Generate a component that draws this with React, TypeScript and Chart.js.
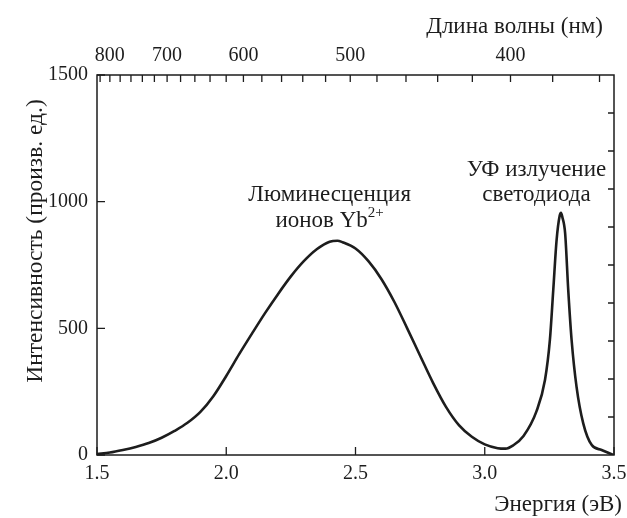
import { useEffect, useRef } from "react";
import { Chart, registerables } from "chart.js";

Chart.register(...registerables);

// Photon energy (eV) and emission intensity (arb. units)
const energyEv = [
  1.5, 1.55, 1.6, 1.65, 1.7, 1.75, 1.8, 1.85, 1.9, 1.95, 2.0, 2.05, 2.1, 2.15,
  2.2, 2.25, 2.3, 2.35, 2.4, 2.43, 2.45, 2.5, 2.55, 2.6, 2.65, 2.7, 2.75, 2.8,
  2.85, 2.9, 2.95, 3.0, 3.05, 3.08, 3.11, 3.15, 3.2, 3.233, 3.252, 3.265,
  3.278, 3.29, 3.295, 3.3, 3.311, 3.323, 3.336, 3.355, 3.381, 3.414, 3.452,
  3.497,
];
const intensity = [
  4, 10, 20, 32, 47, 68, 95, 127, 170, 232, 312, 398, 480, 560, 635, 705, 765,
  812, 842, 846, 840, 815, 765, 695, 605, 500, 392, 285, 190, 118, 72, 42, 27,
  25, 38, 75, 172, 296, 454, 651, 849, 945, 956, 940, 875, 651, 454, 270, 125,
  39, 20, 0,
];

// Axis ticks
const energyTicks = [1.5, 2.0, 2.5, 3.0, 3.5];
const intensityTicks = [0, 500, 1000, 1500];
const rightTicks = [150, 300, 450, 600, 750, 900, 1050, 1200, 1350];
const wavelengthLabels = [800, 700, 600, 500, 400];
const wavelengthTicks = [
  820, 800, 780, 760, 740, 720, 700, 680, 660, 640, 620, 600, 580, 560, 540,
  520, 500, 480, 460, 440, 420, 400, 380, 360,
];

const HC = 1239.84; // eV·nm
const INK = "#1d1d1d";
const SERIF = '"Liberation Serif", "DejaVu Serif", serif';
const NUM_FONT = `20px ${SERIF}`;
const TEXT_FONT = `23px ${SERIF}`;
const YTITLE_FONT = `23.5px ${SERIF}`;

const framePlugin = {
  id: "frameAndAxes",
  afterDraw(chart: any) {
    const { ctx, chartArea: a } = chart;
    const xs = chart.scales.x;
    const ys = chart.scales.y;
    ctx.save();
    ctx.strokeStyle = INK;
    ctx.fillStyle = INK;
    ctx.lineWidth = 1.5;
    ctx.strokeRect(a.left, a.top, a.right - a.left, a.bottom - a.top);

    ctx.lineWidth = 1.3;
    ctx.beginPath();
    // bottom energy ticks (inward)
    for (const e of energyTicks) {
      const px = xs.getPixelForValue(e);
      ctx.moveTo(px, a.bottom);
      ctx.lineTo(px, a.bottom - 8);
    }
    // left intensity ticks
    for (const v of intensityTicks) {
      const py = ys.getPixelForValue(v);
      ctx.moveTo(a.left, py);
      ctx.lineTo(a.left + 8, py);
    }
    // right minor ticks
    for (const v of rightTicks) {
      const py = ys.getPixelForValue(v);
      ctx.moveTo(a.right, py);
      ctx.lineTo(a.right - 6, py);
    }
    // top wavelength ticks
    for (const w of wavelengthTicks) {
      const px = xs.getPixelForValue(HC / w);
      ctx.moveTo(px, a.top);
      ctx.lineTo(px, a.top + 7);
    }
    ctx.stroke();

    ctx.font = NUM_FONT;
    // bottom labels
    ctx.textAlign = "center";
    ctx.textBaseline = "alphabetic";
    for (const e of energyTicks) {
      ctx.fillText(e.toFixed(1), xs.getPixelForValue(e), a.bottom + 24);
    }
    // top labels
    for (const w of wavelengthLabels) {
      ctx.fillText(String(w), xs.getPixelForValue(HC / w), a.top - 14);
    }
    // left labels
    ctx.textAlign = "right";
    ctx.textBaseline = "middle";
    for (const v of intensityTicks) {
      ctx.fillText(String(v), a.left - 9, ys.getPixelForValue(v));
    }

    // axis titles
    ctx.font = TEXT_FONT;
    ctx.textAlign = "right";
    ctx.textBaseline = "alphabetic";
    ctx.fillText("Энергия (эВ)", a.right + 8, a.bottom + 56);
    ctx.fillText("Длина волны (нм)", a.right - 11, a.top - 42);

    ctx.save();
    ctx.font = YTITLE_FONT;
    ctx.translate(42, 241);
    ctx.rotate(-Math.PI / 2);
    ctx.textAlign = "center";
    ctx.textBaseline = "alphabetic";
    ctx.fillText("Интенсивность (произв. ед.)", 0, 0);
    ctx.restore();

    // peak annotations
    ctx.font = TEXT_FONT;
    ctx.textAlign = "center";
    ctx.textBaseline = "alphabetic";
    const lumX = xs.getPixelForValue(2.4);
    const row1 = ys.getPixelForValue(1000) - 1;
    ctx.fillText("Люминесценция", lumX, row1);
    const ionText = "ионов Yb";
    const supText = "2+";
    const w1 = ctx.measureText(ionText).width;
    ctx.font = `15px ${SERIF}`;
    const w2 = ctx.measureText(supText).width;
    const startX = lumX - (w1 + w2) / 2;
    const baseY = row1 + 26;
    ctx.textAlign = "left";
    ctx.fillText(supText, startX + w1, baseY - 10);
    ctx.font = TEXT_FONT;
    ctx.fillText(ionText, startX, baseY);

    ctx.textAlign = "center";
    const uvX = xs.getPixelForValue(3.2);
    ctx.fillText("УФ излучение", uvX, row1 - 25);
    ctx.fillText("светодиода", uvX, row1);
    ctx.restore();
  },
};

export default function App() {
  const canvasRef = useRef<HTMLCanvasElement | null>(null);

  useEffect(() => {
    const canvas = canvasRef.current;
    if (!canvas) return;
    const points = energyEv.map((x, i) => ({ x, y: intensity[i] }));
    const chart = new Chart(canvas, {
      type: "line",
      data: {
        datasets: [
          {
            data: points,
            borderColor: INK,
            borderWidth: 2.6,
            pointRadius: 0,
            fill: false,
            cubicInterpolationMode: "monotone",
          },
        ],
      },
      options: {
        animation: false,
        responsive: false,
        maintainAspectRatio: false,
        devicePixelRatio: 1,
        layout: { padding: { left: 97, right: 13, top: 75, bottom: 63 } },
        plugins: {
          legend: { display: false },
          tooltip: { enabled: false },
        },
        scales: {
          x: { type: "linear", min: 1.5, max: 3.5, display: false },
          y: { type: "linear", min: 0, max: 1500, display: false },
        },
      },
      plugins: [framePlugin],
    });
    return () => chart.destroy();
  }, []);

  return (
    <div style={{ position: "fixed", left: 0, top: 0, width: 627, height: 518, background: "#fff" }}>
      <canvas ref={canvasRef} width={627} height={518} style={{ display: "block" }} />
    </div>
  );
}
